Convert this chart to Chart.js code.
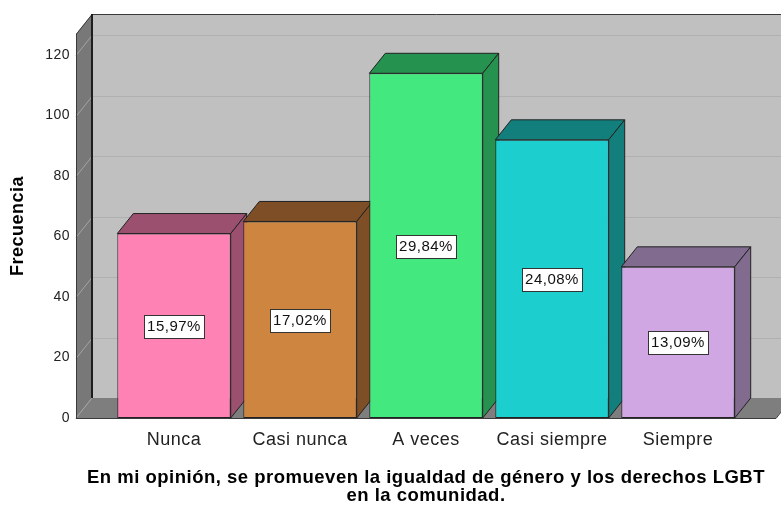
<!DOCTYPE html>
<html>
<head>
<meta charset="utf-8">
<script src="https://cdn.jsdelivr.net/npm/chart.js@4"></script>
<style>
  body { margin: 0; background: #ffffff; }
  #wrap { width: 781px; height: 506px; }
</style>
</head>
<body>
<div id="wrap"><canvas id="chart" width="781" height="506"></canvas></div>
<script>
// Frequencies (N = 382)
const categories = ['Nunca', 'Casi nunca', 'A veces', 'Casi siempre', 'Siempre'];
const counts = [61, 65, 114, 92, 50];
const yTicks = [0, 20, 40, 60, 80, 100, 120];
const frontColors = ['#ff82b4', '#cd853f', '#43e97f', '#1ccece', '#d0a7e3'];
const sideColors = ['#9c506f', '#7e4f26', '#25924f', '#137f7c', '#816b8f'];
const xTitleLines = ['En mi opinión, se promueven la igualdad de género y los derechos LGBT', 'en la comunidad.'];

const DX = 16, DY = -20;   // 3D depth offset
const total = counts.reduce((a, b) => a + b, 0);
const percentLabels = counts.map(c => (c / total * 100).toFixed(2).replace('.', ',') + '%');
const FONT = '"Liberation Sans", Arial, sans-serif';

const depthPlugin = {
    id: 'depth3d',
    beforeDraw(chart) {
        const { ctx, chartArea: a, scales: { y } } = chart;
        const L = a.left - 35, R = a.right + 35;
        const top = a.top, bot = a.bottom;
        const W = chart.width;
        ctx.save();
        // back wall
        ctx.fillStyle = '#c0c0c0';
        ctx.fillRect(L + DX, top + DY, W - L - DX, bot - top);
        // left wall
        ctx.fillStyle = '#787878';
        ctx.beginPath();
        ctx.moveTo(L, top); ctx.lineTo(L + DX, top + DY);
        ctx.lineTo(L + DX, bot + DY); ctx.lineTo(L, bot);
        ctx.closePath(); ctx.fill();
        // grid lines
        ctx.lineWidth = 1;
        yTicks.forEach(v => {
            const py = Math.round(y.getPixelForValue(v)) + 0.5;
            if (v > 0) {
                ctx.strokeStyle = '#b0b0b0';
                ctx.beginPath();
                ctx.moveTo(L + DX, py + DY); ctx.lineTo(W, py + DY);
                ctx.stroke();
            }
            ctx.strokeStyle = '#a4a4a4';
            ctx.beginPath();
            ctx.moveTo(L, py); ctx.lineTo(L + DX, py + DY);
            ctx.stroke();
        });
        // floor
        ctx.fillStyle = '#7e7e7e';
        ctx.beginPath();
        ctx.moveTo(L, bot); ctx.lineTo(L + DX, bot + DY);
        ctx.lineTo(R + DX, bot + DY); ctx.lineTo(R, bot);
        ctx.closePath(); ctx.fill();
        ctx.strokeStyle = '#a4a4a4';
        ctx.beginPath();
        ctx.moveTo(L, bot); ctx.lineTo(L + DX, bot + DY);
        ctx.stroke();
        // edges
        ctx.strokeStyle = '#3a3a3a';
        ctx.beginPath();
        ctx.moveTo(L + 0.5, bot); ctx.lineTo(L + 0.5, top);
        ctx.lineTo(L + DX, top + DY + 0.5); ctx.lineTo(W, top + DY + 0.5);
        ctx.stroke();
        ctx.beginPath();
        ctx.moveTo(L, bot + 0.5); ctx.lineTo(R, bot + 0.5);
        ctx.lineTo(R + DX, bot + DY);
        ctx.stroke();
        ctx.strokeStyle = '#1e1e1e';
        ctx.lineWidth = 2;
        ctx.beginPath();
        ctx.moveTo(L + DX, top + DY); ctx.lineTo(L + DX, bot + DY);
        ctx.stroke();
        ctx.restore();
        // slightly wider text, like the original renderer
        ctx.letterSpacing = '0.5px';
    },
    beforeDatasetsDraw(chart) {
        const { ctx } = chart;
        const meta = chart.getDatasetMeta(0);
        ctx.save();
        ctx.lineWidth = 1;
        ctx.strokeStyle = '#222222';
        meta.data.forEach((el, i) => {
            const { x, y, base, width } = el.getProps(['x', 'y', 'base', 'width'], true);
            const l = x - width / 2, r = x + width / 2;
            ctx.fillStyle = sideColors[i];
            // top face
            ctx.beginPath();
            ctx.moveTo(l, y); ctx.lineTo(l + DX, y + DY);
            ctx.lineTo(r + DX, y + DY); ctx.lineTo(r, y);
            ctx.closePath(); ctx.fill(); ctx.stroke();
            // side face
            ctx.beginPath();
            ctx.moveTo(r, y); ctx.lineTo(r + DX, y + DY);
            ctx.lineTo(r + DX, base + DY); ctx.lineTo(r, base);
            ctx.closePath(); ctx.fill(); ctx.stroke();
        });
        ctx.restore();
    },
    afterDatasetsDraw(chart) {
        const { ctx } = chart;
        const meta = chart.getDatasetMeta(0);
        ctx.save();
        ctx.font = '15px ' + FONT;
        ctx.textAlign = 'center';
        ctx.textBaseline = 'middle';
        meta.data.forEach((el, i) => {
            const { x, y, base } = el.getProps(['x', 'y', 'base'], true);
            const cy = Math.round((y + base) / 2);
            const txt = percentLabels[i];
            const w = Math.round(ctx.measureText(txt).width) + 6, h = 23;
            const bx = Math.round(x - w / 2) + 0.5, by = Math.round(cy - h / 2) + 0.5;
            ctx.fillStyle = '#ffffff';
            ctx.fillRect(bx, by, w, h);
            ctx.strokeStyle = '#333333';
            ctx.lineWidth = 1;
            ctx.strokeRect(bx, by, w, h);
            ctx.fillStyle = '#111111';
            ctx.fillText(txt, x, cy + 1);
        });
        ctx.restore();
    },
    afterDraw(chart) {
        // x axis title, drawn here so it is not squeezed to the plot width
        const { ctx, chartArea: a } = chart;
        ctx.save();
        ctx.font = 'bold 18.5px ' + FONT;
        ctx.fillStyle = '#000000';
        ctx.textAlign = 'center';
        ctx.textBaseline = 'middle';
        const cx = (a.left + a.right) / 2;
        xTitleLines.forEach((line, i) => ctx.fillText(line, cx, a.bottom + 60 + i * 18));
        ctx.restore();
    }
};

new Chart(document.getElementById('chart'), {
    type: 'bar',
    data: {
        labels: categories,
        datasets: [{
            data: counts,
            backgroundColor: frontColors,
            borderColor: '#222222',
            borderWidth: 1,
            borderSkipped: false,
            barPercentage: 0.9,
            categoryPercentage: 1.0
        }]
    },
    options: {
        responsive: false,
        animation: false,
        layout: { padding: { top: 34, right: 40, left: 0, bottom: 0 } },
        plugins: { legend: { display: false }, tooltip: { enabled: false } },
        scales: {
            x: {
                grid: { display: false, drawTicks: false },
                border: { display: false },
                ticks: {
                    color: '#222222',
                    font: { family: FONT, size: 18 },
                    padding: 11,
                    maxRotation: 0
                },
                afterFit: s => { s.height = 88; s.paddingLeft = 0; s.paddingRight = 0; }
            },
            y: {
                min: 0,
                max: 127,
                grid: { display: false, drawTicks: false },
                border: { display: false },
                ticks: {
                    color: '#222222',
                    font: { family: FONT, size: 14 },
                    padding: 41
                },
                afterBuildTicks: s => { s.ticks = yTicks.map(v => ({ value: v })); },
                title: {
                    display: true,
                    text: 'Frecuencia',
                    color: '#000000',
                    font: { family: FONT, size: 18, weight: 'bold' },
                    padding: { top: 7, bottom: 0 }
                },
                afterFit: s => { s.width = 111; s.paddingTop = 0; s.paddingBottom = 0; }
            }
        }
    },
    plugins: [depthPlugin]
});
</script>
</body>
</html>
